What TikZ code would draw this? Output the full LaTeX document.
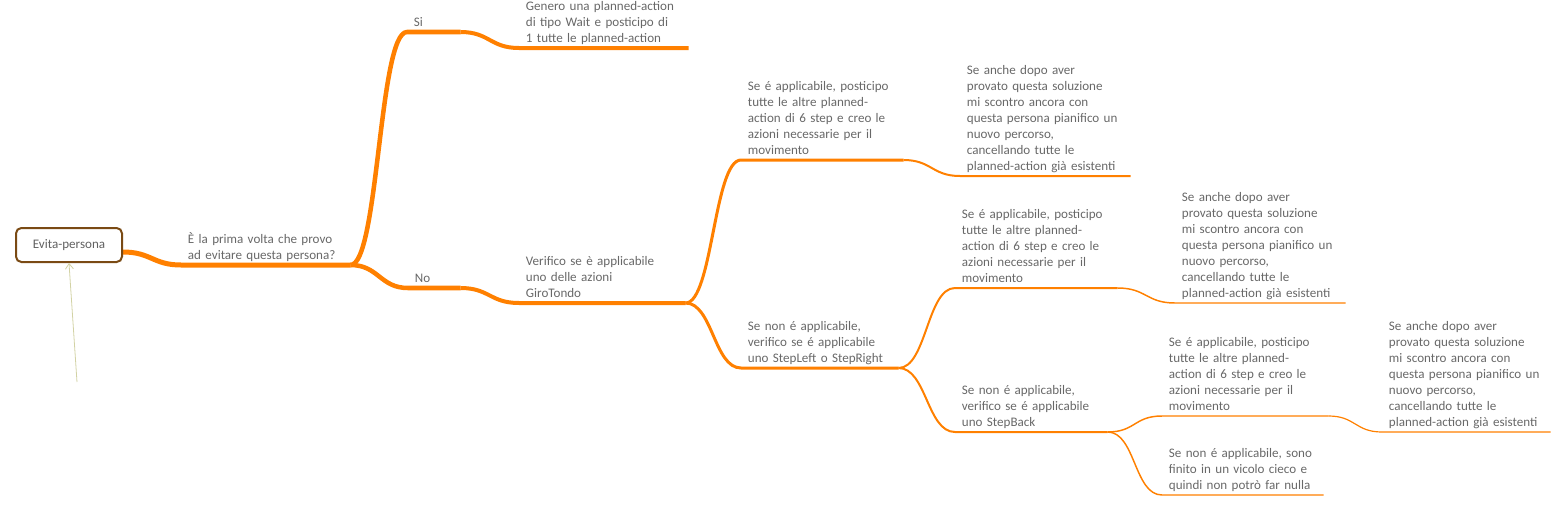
\documentclass[tikz,border=0pt]{standalone}
\usepackage{fontspec}
\setmainfont{Carlito}
\usetikzlibrary{arrows.meta}
\definecolor{mm_orange}{HTML}{FF8000}
\definecolor{mm_brown}{HTML}{7A4A14}
\definecolor{mm_text}{HTML}{686868}
\definecolor{mm_pin}{HTML}{D2D2A4}
\tikzset{
	topic/.style = {
		anchor=south west,
		align=left,
		inner xsep=5pt,
		inner ysep=0pt,
		text=mm_text,
		font=\fontsize{9.8pt}{12pt}\selectfont,
		execute at end node=\strut
	},
	node_root/.style = {
		rectangle,
		rounded corners=4pt,
		draw=mm_brown,
		line width=1.5pt,
		fill=white,
		minimum width=79.5pt,
		minimum height=25.5pt,
		text=black!62,
		font=\fontsize{9.8pt}{12pt}\selectfont
	},
	branch/.style = {
		draw=mm_orange,
		line join=round
	},
	branch_1/.style = {branch, line width=3.75pt},
	branch_2/.style = {branch, line width=3.4pt},
	branch_3/.style = {branch, line width=3pt},
	branch_4/.style = {branch, line width=2.25pt},
	branch_5/.style = {branch, line width=1.5pt},
	branch_6/.style = {branch, line width=1.1pt},
	branch_7/.style = {branch, line width=0.9pt},
	pin_arrow/.style = {
		draw=mm_pin,
		line width=0.6pt,
		-{Straight Barb[length=4pt, width=6pt]}
	}
}

\begin{document}
\begin{tikzpicture}[x=0.75pt, y=-0.75pt]
\useasboundingbox (0,0) rectangle (1561,504);

\node [topic, text width=116.75pt] (quest) at (181,265) {È la prima volta che provo\\ad evitare questa persona?};
\node [topic, text width=29.75pt] (yes) at (407,32) {Si};
\node [topic, text width=116.75pt] (wait) at (519,48) {Genero una planned-action\\di tipo Wait e posticipo di\\1 tutte le planned-action};
\node [topic, text width=29pt] (no) at (408,288) {No};
\node [topic, text width=114.5pt] (giro) at (519,303) {Verifico se è applicabile\\uno delle azioni\\GiroTondo};
\node [topic, text width=111.5pt] (app_a) at (741,160) {Se é applicabile, posticipo\\tutte le altre planned-\\action di 6 step e creo le\\azioni necessarie per il\\movimento};
\node [topic, text width=117.5pt] (anche_a) at (960,176) {Se anche dopo aver\\provato questa soluzione\\mi scontro ancora con\\questa persona pianifico un\\nuovo percorso,\\cancellando tutte le\\planned-action già esistenti};
\node [topic, text width=107.75pt] (non_a) at (741,368) {Se non é applicabile,\\verifico se é applicabile\\uno StepLeft o StepRight};
\node [topic, text width=111.5pt] (app_b) at (955,288) {Se é applicabile, posticipo\\tutte le altre planned-\\action di 6 step e creo le\\azioni necessarie per il\\movimento};
\node [topic, text width=117.5pt] (anche_b) at (1175,303) {Se anche dopo aver\\provato questa soluzione\\mi scontro ancora con\\questa persona pianifico un\\nuovo percorso,\\cancellando tutte le\\planned-action già esistenti};
\node [topic, text width=104pt] (non_b) at (955,432) {Se non é applicabile,\\verifico se é applicabile\\uno StepBack};
\node [topic, text width=114.5pt] (app_c) at (1162,416) {Se é applicabile, posticipo\\tutte le altre planned-\\action di 6 step e creo le\\azioni necessarie per il\\movimento};
\node [topic, text width=116pt] (anche_c) at (1382,432) {Se anche dopo aver\\provato questa soluzione\\mi scontro ancora con\\questa persona pianifico un\\nuovo percorso,\\cancellando tutte le\\planned-action già esistenti};
\node [topic, text width=110.75pt] (non_c) at (1162,495) {Se non é applicabile, sono\\finito in un vicolo cieco e\\quindi non potrò far nulla};

\draw [branch_1] (69,252) -- (123,252) .. controls +(28,0) and +(-28,0) .. (quest.south west) -- (quest.south east);
\draw [branch_2] (quest.south east) .. controls +(28,0) and +(-28,0) .. (yes.south west) -- (yes.south east);
\draw [branch_3] (yes.south east) .. controls +(29,0) and +(-29,0) .. (wait.south west) -- (wait.south east);
\draw [branch_2] (quest.south east) .. controls +(28,0) and +(-28,0) .. (no.south west) -- (no.south east);
\draw [branch_3] (no.south east) .. controls +(29,0) and +(-29,0) .. (giro.south west) -- (giro.south east);
\draw [branch_4] (giro.south east) .. controls +(27,0) and +(-27,0) .. (app_a.south west) -- (app_a.south east);
\draw [branch_5] (app_a.south east) .. controls +(28,0) and +(-28,0) .. (anche_a.south west) -- (anche_a.south east);
\draw [branch_4] (giro.south east) .. controls +(27,0) and +(-27,0) .. (non_a.south west) -- (non_a.south east);
\draw [branch_5] (non_a.south east) .. controls +(28,0) and +(-28,0) .. (app_b.south west) -- (app_b.south east);
\draw [branch_6] (app_b.south east) .. controls +(29,0) and +(-29,0) .. (anche_b.south west) -- (anche_b.south east);
\draw [branch_5] (non_a.south east) .. controls +(28,0) and +(-28,0) .. (non_b.south west) -- (non_b.south east);
\draw [branch_6] (non_b.south east) .. controls +(28,0) and +(-28,0) .. (app_c.south west) -- (app_c.south east);
\draw [branch_7] (app_c.south east) .. controls +(27,0) and +(-27,0) .. (anche_c.south west) -- (anche_c.south east);
\draw [branch_6] (non_b.south east) .. controls +(28,0) and +(-28,0) .. (non_c.south west) -- (non_c.south east);

\node [node_root] (root) at (69,245) {Evita-persona};
\coordinate (pin) at (77,382);
\draw [pin_arrow] (pin) -- (root.south);
\end{tikzpicture}
\end{document}
